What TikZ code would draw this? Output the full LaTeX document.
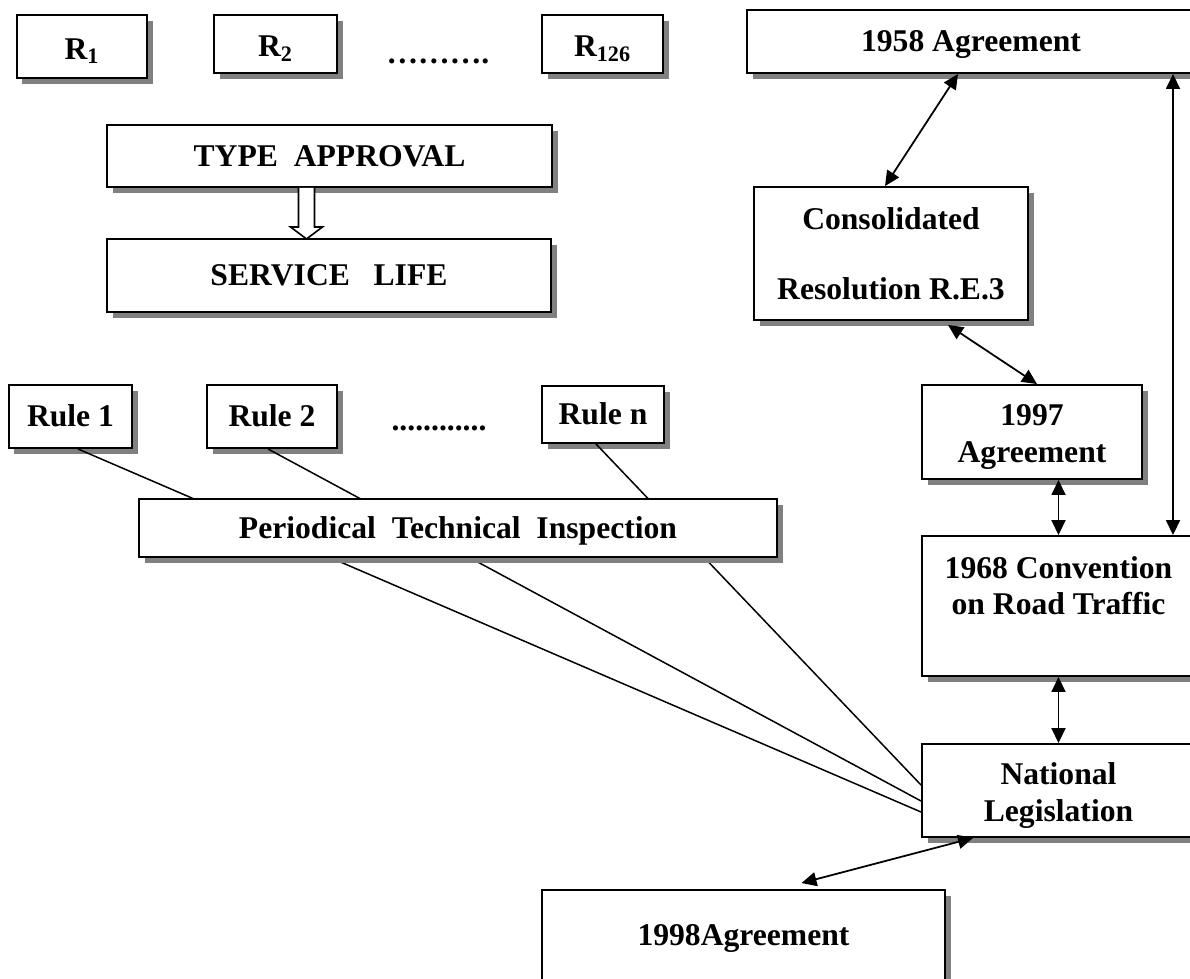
\documentclass[tikz,border=0pt]{standalone}
\usepackage{fontspec}
\setmainfont{Liberation Serif}
\usetikzlibrary{shadows,arrows.meta,calc}

\tikzset{
  box/.style={draw, line width=1.1pt, fill=white, inner sep=0pt, align=center,
    font=\bfseries\fontsize{18}{21}\selectfont,
    drop shadow={shadow xshift=0.11cm, shadow yshift=-0.11cm, fill=black!50, opacity=1}},
  boxsize/.style 2 args={minimum width=#1*0.02cm, minimum height=#2*0.02cm},
  oneline/.style={text height=14.4pt, text depth=2.5pt},
  rlabel/.style={text height=14.4pt, text depth=-1pt},
  twoline/.style={text height=38.8pt, text depth=3.9pt}
}

\begin{document}
\begin{tikzpicture}[x=0.02cm, y=-0.02cm]
  \tikzstyle{link}=[line width=1pt, {Triangle[length=0.3cm,width=0.28cm]}-{Triangle[length=0.3cm,width=0.28cm]}]
  \tikzstyle{ray}=[line width=0.85pt]
  \tikzstyle{dots}=[font=\bfseries\fontsize{18}{21}\selectfont, anchor=base, inner sep=0pt]
  \useasboundingbox (0,0) rectangle (1190,978);
  \clip (0,0) rectangle (1190,978);

  % regulations
  \node[box, rlabel, boxsize={130}{63}] (R_1) at (82,46.5) {R\textsubscript{1}};
  \node[box, rlabel, boxsize={123}{58}] (R_2) at (275.5,44) {R\textsubscript{2}};
  \node[dots] (D_1) at (438,63) {……….};
  \node[box, rlabel, boxsize={121}{58}] (R_126) at (602.5,44) {R\textsubscript{126}};

  \node[box, oneline, boxsize={445}{62}] (TA) at (329.5,156) {TYPE\ \ APPROVAL};
  \node[box, oneline, boxsize={444}{73}] (SL) at (329,275.5) {SERVICE\ \ \ LIFE};
  \coordinate (H) at ($(TA.south)+(-23,0)$);
  \draw[line width=0.9pt, fill=white, shift={(H)}] (-8,0) -- (-8,39) -- (-16,39) -- (0,51) -- (16,39) -- (8,39) -- (8,0);

  % agreements
  \node[box, oneline, boxsize={448}{63}] (A_58) at (971,41.5) {1958 Agreement};
  \node[box, boxsize={274}{133}, font=\bfseries\fontsize{18}{40}\selectfont] (CR) at (891,253.5) {Consolidated\\Resolution R.E.3};
  \node[box, twoline, boxsize={220}{94}] (A_97) at (1032,432) {1997\\Agreement};
  \node[box, text height=33.4pt, text depth=23.2pt, boxsize={273}{140}] (C_68) at (1058.5,606) {1968 Convention\\on Road Traffic};
  \node[box, twoline, boxsize={273}{93}] (NL) at (1058.5,790.5) {National\\Legislation};
  \node[box, oneline, boxsize={403}{90}] (A_98) at (743.5,935) {1998Agreement};

  % inspection rules
  \node[box, oneline, boxsize={123}{63}] (Ru_1) at (70.5,416.5) {Rule 1};
  \node[box, oneline, boxsize={130}{63}] (Ru_2) at (272,416.5) {Rule 2};
  \node[dots] (D_2) at (439,430) {............};
  \node[box, oneline, boxsize={122}{57}] (Ru_n) at (603,414.5) {Rule n};

  \draw[ray] ($(Ru_1.south)+(7.5,0)$) -- ($(NL.west)+(0,21.5)$);
  \draw[ray] ($(Ru_2.south)+(-4,0)$) -- ($(NL.west)+(0,10.5)$);
  \draw[ray] ($(Ru_n.south)+(-7,0)$) -- ($(NL.west)+(0,-5.5)$);
  \node[box, oneline, boxsize={638}{58}] (PTI) at (458,528) {Periodical\ \ Technical\ \ Inspection};

  \draw[link] ($(A_58.south)+(-13,0)$) -- ($(CR.north)+(-6,0)$);
  \draw[link] ($(CR.south)+(57,4)$) -- ($(A_97.north)+(5,0)$);
  \draw[link] ($(A_58.south)+(202,0)$) -- ($(C_68.north)+(114.5,0)$);
  \draw[link] (A_97.south -| C_68.north) -- (C_68.north);
  \draw[link] (C_68.south) -- (NL.north);
  \draw[link] ($(NL.south)+(-85.5,0)$) -- ($(A_98.north)+(58,-6)$);
\end{tikzpicture}
\end{document}
